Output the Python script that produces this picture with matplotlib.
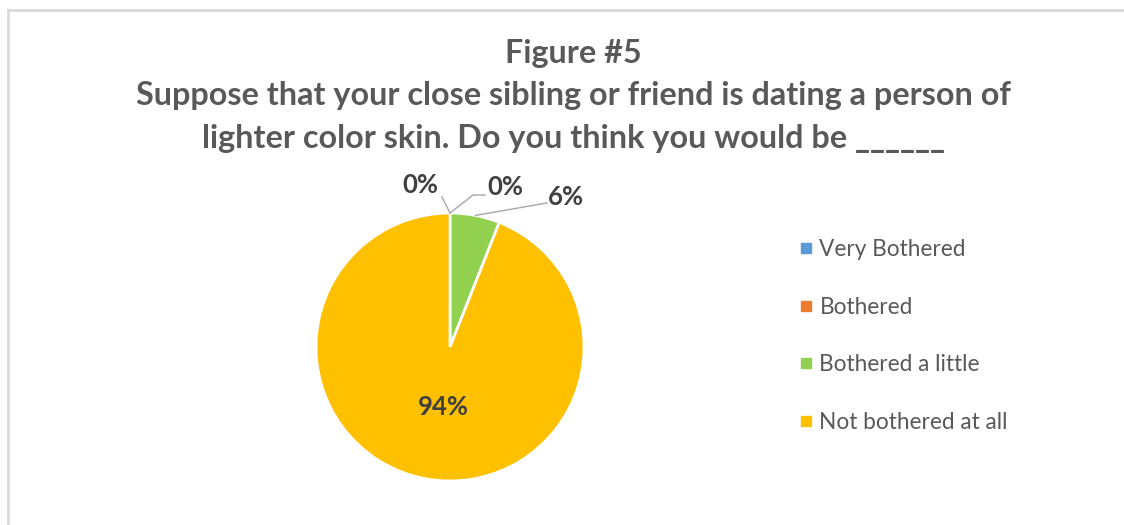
import matplotlib.pyplot as plt
from matplotlib.lines import Line2D

plt.rcParams['font.family'] = ['Lato', 'DejaVu Sans']

title = "Figure #5\nSuppose that your close sibling or friend is dating a person of\nlighter color skin. Do you think you would be ______"
categories = ["Very Bothered", "Bothered", "Bothered a little", "Not bothered at all"]
shares = [0, 0, 6, 94]
colors = ['#5b9bd5', '#ed7d31', '#92d050', '#ffc000']

W, H = 1124, 525
fig = plt.figure(figsize=(W / 100, H / 100), dpi=100)

# chart frame (light gray border cut off at right and bottom)
fig.add_artist(Line2D([8 / W, 1], [1 - 10 / H, 1 - 10 / H], color='#d9d9d9', lw=2))
fig.add_artist(Line2D([8 / W, 8 / W], [0, 1 - 10 / H], color='#d9d9d9', lw=2))

fig.text(573 / W, 1 - 96 / H, title, ha='center', va='center', fontsize=23.3,
         fontweight='bold', color='#595959', linespacing=1.55)

# pie axes: centre (450, 347) px, radius 134 px
cx, cy, r = 450, 347, 134
ax = fig.add_axes([(cx - r) / W, (H - cy - r) / H, 2 * r / W, 2 * r / H])
wedges, _ = ax.pie(shares, colors=colors, startangle=90, counterclock=False,
                   radius=1, wedgeprops=dict(edgecolor='white', linewidth=2))
ax.set_xlim(-1, 1)
ax.set_ylim(-1, 1)
ax.set_aspect('equal')
ax.axis('off')

lbl = dict(fontsize=18.5, fontweight='bold', color='#404040', ha='center', va='center',
           clip_on=False)
line = dict(color='#a6a6a6', lw=1, clip_on=False)

# labels for the two empty slices and the small one, with leader lines
ax.plot([0, -0.06], [1, 1.12], **line)
ax.text(-0.224, 1.209, f"{shares[0]}%", **lbl)
ax.plot([0, 0.172, 0.261], [1, 1.134, 1.134], **line)
ax.text(0.41, 1.194, f"{shares[1]}%", **lbl)
ax.plot([0.19, 0.724], [0.982, 1.075], **line)
ax.text(0.866, 1.119, f"{shares[2]}%", **lbl)
ax.text(-0.05, -0.448, f"{shares[3]}%", **lbl)

handles = [Line2D([], [], marker='s', ls='none', markersize=7, color=c) for c in colors]
fig.legend(handles, categories, loc='upper left', bbox_to_anchor=(790 / W, 1 - 230 / H),
           frameon=False, fontsize=16.3, labelcolor='#595959', labelspacing=1.62,
           handlelength=0.6, handletextpad=0.3, borderaxespad=0)

fig.savefig('out.png', dpi=100)
